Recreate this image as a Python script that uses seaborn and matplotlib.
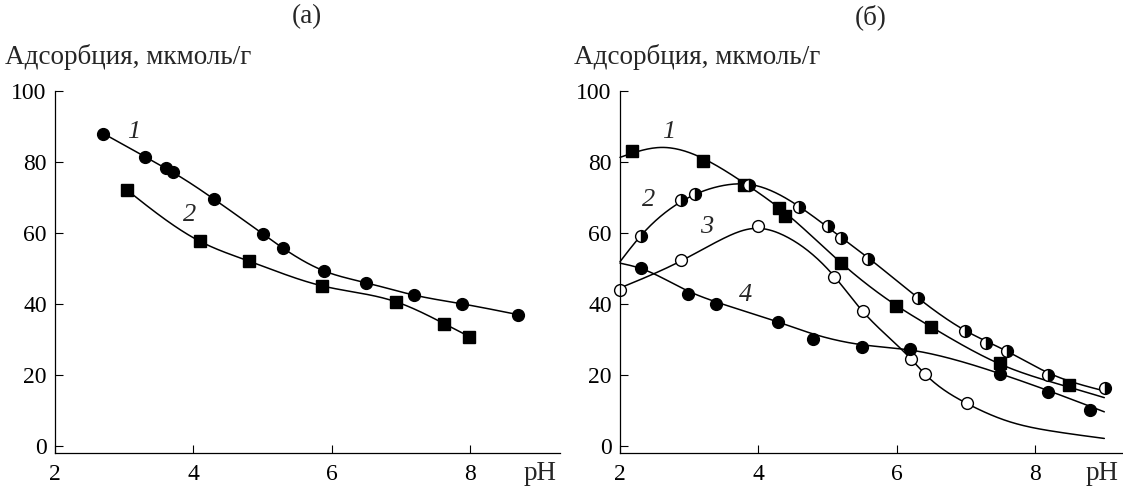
import numpy as np
import pandas as pd
import matplotlib
matplotlib.use("Agg")
import matplotlib.pyplot as plt
import seaborn as sns

# ---------------- data ----------------
# Panel (a)
a1_ph = [2.70, 3.30, 3.60, 3.70, 4.30, 5.00, 5.29, 5.89, 6.49, 7.19, 7.89, 8.69]
a1_ads = [88.0, 81.5, 78.2, 77.1, 69.5, 59.8, 55.8, 49.3, 46.0, 42.5, 40.0, 37.0]
a2_ph = [3.04, 4.10, 4.80, 5.86, 6.93, 7.63, 7.99]
a2_ads = [72.1, 57.6, 52.1, 45.1, 40.6, 34.4, 30.8]

# Panel (б) measured points
b1_ph = [2.18, 3.20, 3.79, 4.30, 4.39, 5.20, 5.99, 6.50, 7.49, 8.49]
b1_ads = [83.0, 80.4, 73.6, 67.1, 64.7, 51.4, 39.3, 33.5, 23.4, 17.3]
b2_ph = [2.30, 2.88, 3.09, 3.87, 4.58, 5.00, 5.20, 5.59, 6.30, 6.99, 7.29, 7.60, 8.19, 9.01]
b2_ads = [59.2, 69.2, 71.0, 73.6, 67.3, 62.1, 58.7, 52.8, 41.8, 32.4, 29.0, 26.6, 20.1, 16.2]
b3_ph = [2.00, 2.88, 4.00, 5.09, 5.51, 6.21, 6.41, 7.01]
b3_ads = [43.9, 52.3, 62.0, 47.7, 38.1, 24.6, 20.4, 12.1]
b4_ph = [2.30, 2.99, 3.39, 4.29, 4.79, 5.50, 6.19, 7.49, 8.19, 8.79]
b4_ads = [50.2, 42.8, 40.0, 35.0, 30.2, 27.9, 27.3, 20.3, 15.2, 10.1]

# Panel (б) fitted curves
f1_ph = [2.0, 2.6, 3.2, 3.8, 4.4, 5.2, 6.0, 6.5, 7.5, 8.5, 9.0]
f1_ads = [81.3, 84.1, 81.0, 74.0, 65.5, 51.5, 39.5, 33.5, 23.0, 16.5, 13.6]
f2_ph = [2.0, 2.3, 2.9, 3.5, 3.9, 4.6, 5.2, 5.6, 6.3, 7.0, 7.6, 8.2, 9.0]
f2_ads = [51.9, 59.2, 69.0, 73.4, 73.6, 67.3, 58.7, 52.8, 41.8, 32.4, 26.6, 20.5, 15.5]
f3_ph = [2.0, 2.9, 3.5, 3.95, 4.4, 5.1, 5.5, 6.2, 6.4, 7.0, 7.6, 8.3, 9.0]
f3_ads = [44.5, 52.3, 58.5, 61.3, 59.0, 47.7, 38.1, 24.6, 20.4, 12.1, 7.0, 4.0, 2.1]
f4_ph = [2.0, 2.3, 3.0, 3.4, 4.3, 4.8, 5.5, 6.2, 6.7, 7.5, 8.2, 9.0]
f4_ads = [51.5, 50.0, 43.5, 40.5, 34.8, 31.5, 28.5, 27.0, 25.0, 20.3, 15.5, 9.6]

x_ticks = [2, 4, 6, 8]
y_ticks = [0, 20, 40, 60, 80, 100]
y_title = "Адсорбция, мкмоль/г"
x_title = "pH"
panel_titles = ["(a)", "(б)"]


def smooth(x, y, n=300):
    """Natural cubic spline through the given points."""
    x = np.asarray(x, float)
    y = np.asarray(y, float)
    m = len(x)
    h = np.diff(x)
    A = np.zeros((m, m))
    r = np.zeros(m)
    A[0, 0] = A[-1, -1] = 1.0
    for i in range(1, m - 1):
        A[i, i - 1] = h[i - 1]
        A[i, i] = 2 * (h[i - 1] + h[i])
        A[i, i + 1] = h[i]
        r[i] = 6 * ((y[i + 1] - y[i]) / h[i] - (y[i] - y[i - 1]) / h[i - 1])
    M = np.linalg.solve(A, r)
    xs = np.linspace(x[0], x[-1], n)
    idx = np.clip(np.searchsorted(x, xs) - 1, 0, m - 2)
    x0, x1 = x[idx], x[idx + 1]
    hh = x1 - x0
    t0, t1 = x1 - xs, xs - x0
    ys = (M[idx] * t0 ** 3 + M[idx + 1] * t1 ** 3) / (6 * hh) \
        + (y[idx] / hh - M[idx] * hh / 6) * t0 + (y[idx + 1] / hh - M[idx + 1] * hh / 6) * t1
    return pd.DataFrame({"pH": xs, "ads": ys})


sns.set_theme(style="ticks")
plt.rcParams["font.family"] = ["Liberation Serif", "DejaVu Serif"]

FS_TICK = 17
FS_TXT = 19.5
FS_NUM = 19
fig = plt.figure(figsize=(11.23, 4.86), dpi=100)
ax_a = fig.add_axes([55 / 1123, 33 / 486, 505 / 1123, 362 / 486])
ax_b = fig.add_axes([620 / 1123, 33 / 486, 503 / 1123, 362 / 486])

LW = 1.1
MS = 8.5


def curve(ax, df):
    sns.lineplot(data=df, x="pH", y="ads", ax=ax, color="black", lw=LW,
                 sort=False, estimator=None)


def pts(ax, x, y, marker, face="black", fill="full"):
    df = pd.DataFrame({"pH": x, "ads": y})
    sns.lineplot(data=df, x="pH", y="ads", ax=ax, linestyle="", marker=marker,
                 markersize=MS, color="black", markerfacecolor=face,
                 markeredgecolor="black", markeredgewidth=1.0,
                 fillstyle=fill, markerfacecoloralt="white",
                 sort=False, estimator=None)


# Panel (a)
curve(ax_a, smooth(a1_ph, a1_ads))
curve(ax_a, smooth(a2_ph, a2_ads))
pts(ax_a, a1_ph, a1_ads, "o")
pts(ax_a, a2_ph, a2_ads, "s")
ax_a.text(3.14, 88.5, "1", style="italic", fontsize=FS_NUM, ha="center", va="center")
ax_a.text(3.95, 65.0, "2", style="italic", fontsize=FS_NUM, ha="center", va="center")

# Panel (б)
for fx, fy in [(f1_ph, f1_ads), (f2_ph, f2_ads), (f3_ph, f3_ads), (f4_ph, f4_ads)]:
    curve(ax_b, smooth(fx, fy))
pts(ax_b, b1_ph, b1_ads, "s")
pts(ax_b, b2_ph, b2_ads, "o", face="black", fill="right")
pts(ax_b, b3_ph, b3_ads, "o", face="white")
pts(ax_b, b4_ph, b4_ads, "o")
ax_b.text(2.70, 88.5, "1", style="italic", fontsize=FS_NUM, ha="center", va="center")
ax_b.text(2.42, 69.2, "2", style="italic", fontsize=FS_NUM, ha="center", va="center")
ax_b.text(3.25, 61.7, "3", style="italic", fontsize=FS_NUM, ha="center", va="center")
ax_b.text(3.82, 42.5, "4", style="italic", fontsize=FS_NUM, ha="center", va="center")

for ax, xmax in [(ax_a, 9.3), (ax_b, 9.27)]:
    ax.set_xlim(2, xmax)
    ax.set_ylim(-2, 100)
    ax.set_xticks(x_ticks)
    ax.set_yticks(y_ticks)
    ax.set_xlabel("")
    ax.set_ylabel("")
    ax.set_facecolor("none")
    for s in ["top", "right"]:
        ax.spines[s].set_visible(False)
    for s in ["left", "bottom"]:
        ax.spines[s].set_linewidth(0.9)
        ax.spines[s].set_color("black")
    ax.tick_params(direction="in", length=6, width=0.8, labelsize=FS_TICK,
                   colors="black", pad=6)
    ax.tick_params(axis="x", pad=8)
    for line in ax.lines:
        line.set_clip_on(False)

fig.text(5 / 1123, 1 - 57 / 486, y_title, fontsize=FS_TXT, ha="left", va="center")
fig.text(574 / 1123, 1 - 57 / 486, y_title, fontsize=FS_TXT, ha="left", va="center")
fig.text(540 / 1123, 1 - 473 / 486, x_title, fontsize=FS_TXT, ha="center", va="center")
fig.text(1102 / 1123, 1 - 473 / 486, x_title, fontsize=FS_TXT, ha="center", va="center")
fig.text(307 / 1123, 1 - 17 / 486, panel_titles[0], fontsize=FS_TXT, ha="center", va="center")
fig.text(871 / 1123, 1 - 17 / 486, panel_titles[1], fontsize=FS_TXT, ha="center", va="center")

fig.savefig("out.png", dpi=100, facecolor="white")
